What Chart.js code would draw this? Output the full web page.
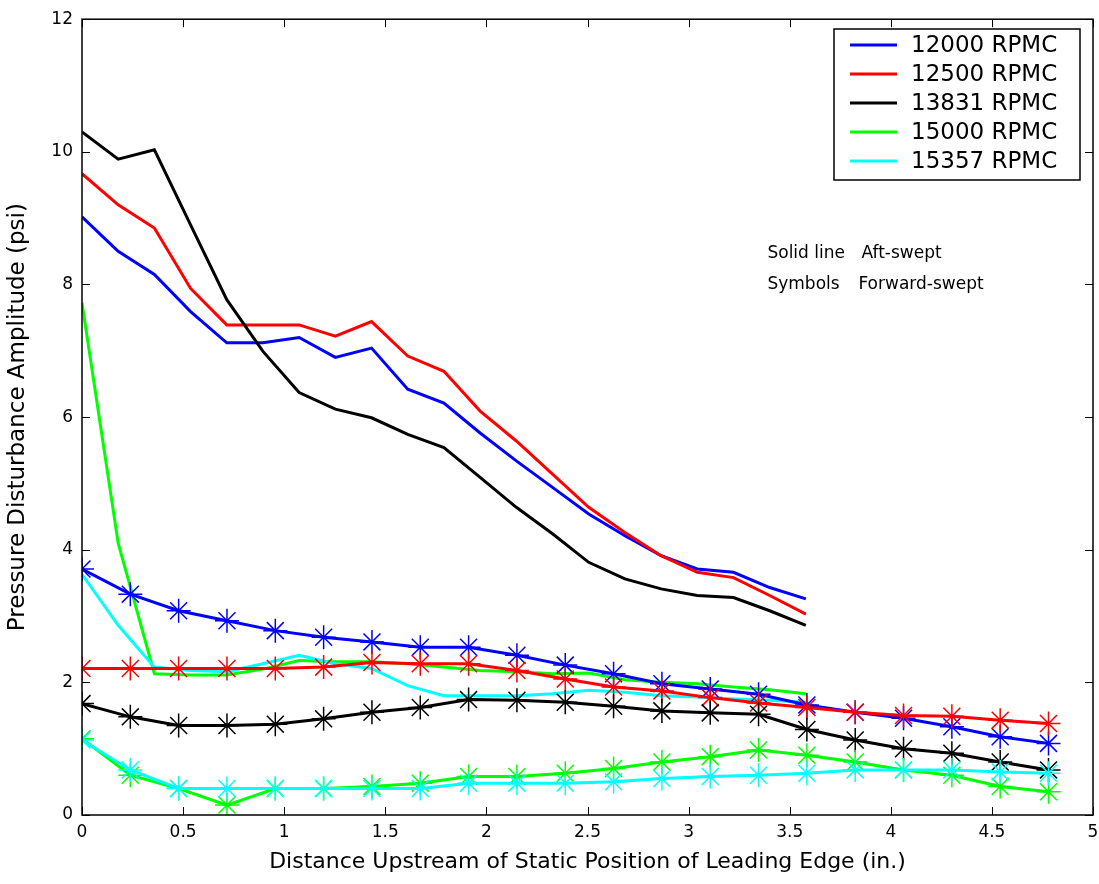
<!DOCTYPE html>
<html>
<head>
<meta charset="utf-8">
<script src="https://cdn.jsdelivr.net/npm/chart.js@4.4.1/dist/chart.umd.min.js"></script>
<style>
  html, body { margin: 0; padding: 0; background: #fff; }
  #wrap { width: 1099px; height: 884px; }
</style>
</head>
<body>
<div id="wrap"><canvas id="myChart" width="1099" height="884"></canvas></div>
<script>
// posiciones x (pulgadas)
const xAft = [0, 0.179, 0.358, 0.537, 0.716, 0.895, 1.074, 1.253, 1.432, 1.611, 1.79,
              1.969, 2.148, 2.327, 2.506, 2.685, 2.864, 3.043, 3.222, 3.401, 3.58];
const xFwd = [0, 0.239, 0.478, 0.717, 0.956, 1.195, 1.434, 1.673, 1.912, 2.151, 2.39,
              2.629, 2.868, 3.107, 3.346, 3.585, 3.824, 4.063, 4.302, 4.541, 4.78];

const labels = ['12000 RPMC', '12500 RPMC', '13831 RPMC', '15000 RPMC', '15357 RPMC'];
const colors = ['#0000ff', '#ff0000', '#000000', '#00ff00', '#00ffff'];

// Aft-swept (linea solida)
const aft12000 = [9.02, 8.50, 8.15, 7.59, 7.12, 7.12, 7.20, 6.90, 7.04, 6.42, 6.21, 5.76, 5.34, 4.94, 4.54, 4.21, 3.91, 3.71, 3.66, 3.43, 3.26];
const aft12500 = [9.67, 9.20, 8.85, 7.94, 7.39, 7.39, 7.39, 7.22, 7.44, 6.92, 6.69, 6.09, 5.64, 5.14, 4.64, 4.26, 3.91, 3.66, 3.58, 3.31, 3.03];
const aft13831 = [10.30, 9.89, 10.03, 8.90, 7.77, 6.99, 6.37, 6.12, 5.99, 5.74, 5.54, 5.09, 4.64, 4.24, 3.81, 3.56, 3.41, 3.31, 3.28, 3.08, 2.86];
const aft15000 = [7.72, 4.10, 2.13, 2.11, 2.11, 2.20, 2.33, 2.31, 2.31, 2.28, 2.23, 2.18, 2.16, 2.13, 2.14, 2.04, 2.00, 1.98, 1.93, 1.89, 1.83];
const aft15357 = [3.63, 2.86, 2.23, 2.18, 2.16, 2.28, 2.41, 2.28, 2.21, 1.95, 1.80, 1.80, 1.80, 1.83, 1.88, 1.85, 1.80, 1.78, 1.75, 1.73, 1.70];

// Forward-swept (simbolos)
const fwd12000 = [3.71, 3.33, 3.08, 2.93, 2.78, 2.68, 2.61, 2.53, 2.53, 2.41, 2.26, 2.13, 1.98, 1.90, 1.82, 1.66, 1.55, 1.46, 1.33, 1.18, 1.08];
const fwd12500 = [2.21, 2.21, 2.21, 2.21, 2.21, 2.23, 2.30, 2.28, 2.28, 2.18, 2.05, 1.93, 1.87, 1.77, 1.69, 1.62, 1.55, 1.50, 1.49, 1.43, 1.38];
const fwd13831 = [1.68, 1.48, 1.35, 1.35, 1.37, 1.45, 1.55, 1.62, 1.74, 1.73, 1.70, 1.64, 1.57, 1.54, 1.52, 1.29, 1.13, 1.00, 0.93, 0.80, 0.68];
const fwd15000 = [1.15, 0.60, 0.40, 0.15, 0.40, 0.40, 0.43, 0.48, 0.58, 0.58, 0.63, 0.70, 0.80, 0.88, 0.98, 0.90, 0.80, 0.68, 0.60, 0.43, 0.35];
const fwd15357 = [1.13, 0.68, 0.40, 0.40, 0.40, 0.40, 0.40, 0.40, 0.48, 0.48, 0.48, 0.50, 0.55, 0.58, 0.60, 0.63, 0.68, 0.68, 0.68, 0.65, 0.63];

const aftSeries = [aft12000, aft12500, aft13831, aft15000, aft15357];
const fwdSeries = [fwd12000, fwd12500, fwd13831, fwd15000, fwd15357];

const FONT = '"DejaVu Sans", Verdana, sans-serif';

function pts(xs, ys) {
    return ys.map((y, i) => ({ x: xs[i], y: y }));
}

const datasets = [];
aftSeries.forEach((s, i) => {
    datasets.push({
        label: labels[i],
        data: pts(xAft, s),
        borderColor: colors[i],
        backgroundColor: colors[i],
        borderWidth: 3,
        pointRadius: 0,
        showLine: true,
        tension: 0
    });
});
fwdSeries.forEach((s, i) => {
    datasets.push({
        label: '',
        data: pts(xFwd, s),
        borderColor: colors[i],
        backgroundColor: colors[i],
        borderWidth: 3,
        pointStyle: 'star',
        pointRadius: 12,
        pointBorderWidth: 1.5,
        showLine: true,
        tension: 0
    });
});
// el ultimo dibujado queda encima (como matlab)
datasets.forEach((d, k) => { d.order = datasets.length - k; });

// caja, ticks hacia dentro, etiquetas x, leyenda y notas
const matlabAxes = {
    id: 'matlabAxes',
    afterDraw(chart) {
        const ctx = chart.ctx;
        const a = chart.chartArea;
        const xs = chart.scales.x, ys = chart.scales.y;
        const tl = 8;
        ctx.save();
        ctx.strokeStyle = '#000';
        ctx.lineWidth = 1.5;
        ctx.strokeRect(a.left, a.top, a.right - a.left, a.bottom - a.top);
        ctx.beginPath();
        xs.ticks.forEach(t => {
            const px = Math.round(xs.getPixelForValue(t.value)) + 0.5;
            ctx.moveTo(px, a.bottom); ctx.lineTo(px, a.bottom - tl);
            ctx.moveTo(px, a.top); ctx.lineTo(px, a.top + tl);
        });
        ys.ticks.forEach(t => {
            const py = Math.round(ys.getPixelForValue(t.value)) + 0.5;
            ctx.moveTo(a.left, py); ctx.lineTo(a.left + tl, py);
            ctx.moveTo(a.right, py); ctx.lineTo(a.right - tl, py);
        });
        ctx.lineWidth = 1;
        ctx.stroke();

        // etiquetas del eje x (a mano para que el "5" no encoja el area)
        ctx.font = '17px ' + FONT;
        ctx.fillStyle = '#000';
        ctx.textAlign = 'center';
        ctx.textBaseline = 'top';
        xs.ticks.forEach(t => {
            ctx.fillText(String(t.value), xs.getPixelForValue(t.value), a.bottom + 9);
        });
        ctx.textAlign = 'left';

        // leyenda
        const bx = 834, by = 29, bw = 246, bh = 151;
        ctx.fillStyle = '#fff';
        ctx.fillRect(bx, by, bw, bh);
        ctx.lineWidth = 1.5;
        ctx.strokeRect(bx, by, bw, bh);
        ctx.font = '23px ' + FONT;
        ctx.textBaseline = 'middle';
        labels.forEach((lab, i) => {
            const yy = 45 + i * 29;
            ctx.strokeStyle = colors[i];
            ctx.lineWidth = 3;
            ctx.beginPath();
            ctx.moveTo(850, yy); ctx.lineTo(897, yy);
            ctx.stroke();
            ctx.fillStyle = '#000';
            ctx.fillText(lab, 911, yy + 1);
        });

        // nota de estilos
        ctx.font = '17px ' + FONT;
        ctx.fillStyle = '#000';
        const nx = xs.getPixelForValue(3.39);
        const nx2 = xs.getPixelForValue(3.84);
        const ny1 = ys.getPixelForValue(8.46);
        const ny2 = ys.getPixelForValue(8.0);
        ctx.fillText('Solid line', nx, ny1);
        ctx.fillText('Aft-swept', nx2 + 3, ny1);
        ctx.fillText('Symbols', nx, ny2);
        ctx.fillText('Forward-swept', nx2, ny2);
        ctx.restore();
    }
};

const ctx = document.getElementById('myChart').getContext('2d');
const myChart = new Chart(ctx, {
    type: 'scatter',
    data: { datasets: datasets },
    options: {
        responsive: false,
        maintainAspectRatio: false,
        animation: false,
        layout: { autoPadding: false, padding: { top: 18, right: 6, left: 0, bottom: 0 } },
        plugins: {
            legend: { display: false },
            tooltip: { enabled: false }
        },
        scales: {
            x: {
                type: 'linear',
                min: 0, max: 5,
                grid: { display: true, drawOnChartArea: false, drawTicks: false },
                border: { display: false },
                ticks: { stepSize: 0.5, display: false },
                title: {
                    display: true,
                    text: 'Distance Upstream of Static Position of Leading Edge (in.)',
                    color: '#000',
                    font: { family: FONT, size: 22 },
                    padding: { top: 0, bottom: 9 }
                },
                afterFit(scale) { scale.height = 69; }
            },
            y: {
                type: 'linear',
                min: 0, max: 12,
                grid: { display: true, drawOnChartArea: false, drawTicks: false },
                border: { display: false },
                ticks: { stepSize: 2, padding: 9, color: '#000', font: { family: FONT, size: 17 } },
                title: {
                    display: true,
                    text: 'Pressure Disturbance Amplitude (psi)',
                    color: '#000',
                    font: { family: FONT, size: 23 },
                    padding: { top: 4, bottom: 0 }
                },
                afterFit(scale) { scale.width = 82; }
            }
        }
    },
    plugins: [matlabAxes]
});
</script>
</body>
</html>
